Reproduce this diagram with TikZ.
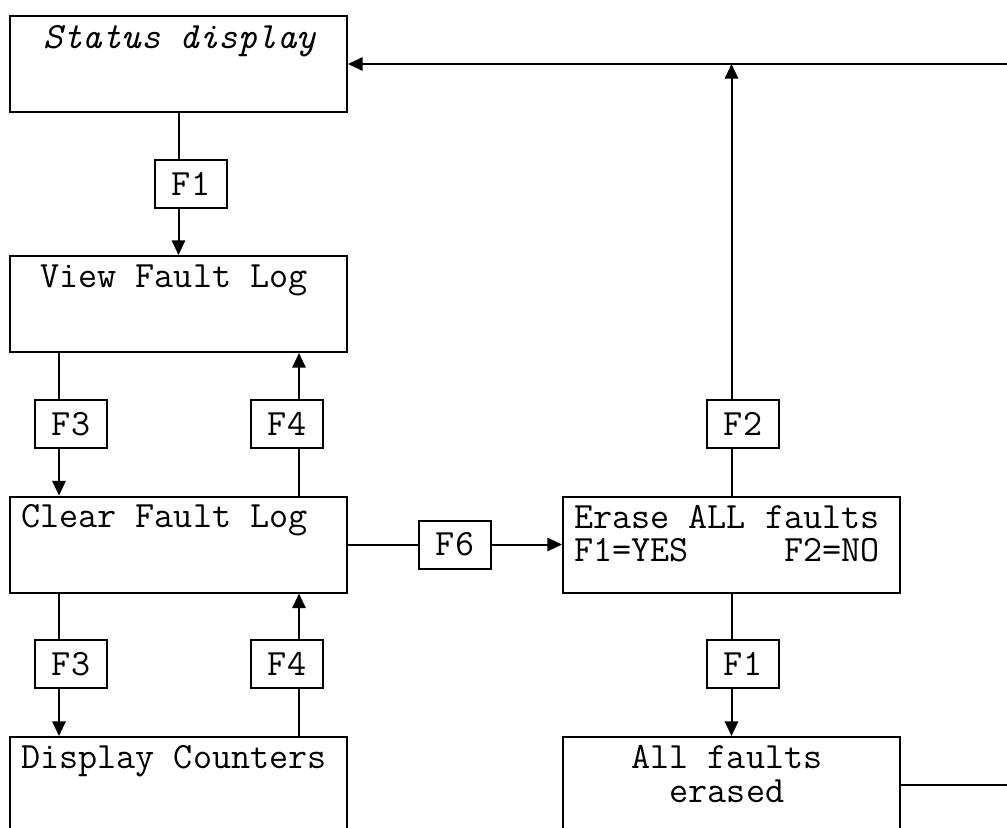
\documentclass[tikz,border=0pt]{standalone}
\usepackage{fontspec}
\usetikzlibrary{arrows.meta}
\newcommand\lcdpad[1]{\hphantom{#1}}
\tikzstyle{screen}  = [draw, line width=1.5pt, minimum width=252.75pt, minimum height=72pt, inner sep=0pt]
\tikzstyle{lcdline} = [anchor=base west, inner sep=0pt, align=left, font=\ttfamily\fontsize{27.8pt}{25pt}\selectfont]
\tikzstyle{key}     = [draw, line width=1.5pt, minimum width=54pt, minimum height=36pt, inner sep=0pt, font=\ttfamily\fontsize{27.8pt}{30pt}\selectfont]
\tikzstyle{link}    = [line width=1.5pt]
\tikzstyle{arrow}   = [line width=1.5pt, -{Triangle[length=11pt,width=10pt]}]

\begin{document}
\begin{tikzpicture}[x=0.75pt,y=-0.75pt]
	\useasboundingbox (0,0) rectangle (1007,828);
	\clip (0,0) rectangle (1007,828);
	% screens
	\node[screen] (status)   at (178.5,64) {};
	\node[screen] (viewlog)  at (178.5,304) {};
	\node[screen] (clearlog) at (178.5,544.5) {};
	\node[screen] (counters) at (178.5,785) {};
	\node[screen] (erase)    at (731.5,544.5) {};
	\node[screen] (erased)   at (731.5,785) {};
	% screen texts (base = last line)
	\node[lcdline] (status-txt)   at ([shift={(15,33)}]status.north west) {\itshape\lcdpad{0}Status display};
	\node[lcdline] (viewlog-txt)  at ([shift={(12,32)}]viewlog.north west) {\lcdpad{0}View Fault Log};
	\node[lcdline] (clearlog-txt) at ([shift={(12,32)}]clearlog.north west) {Clear Fault Log};
	\node[lcdline] (counters-txt) at ([shift={(12,32)}]counters.north west) {Display Counters};
	\node[lcdline] (erase-txt)    at ([shift={(12,66)}]erase.north west) {Erase ALL faults\\F1=YES\lcdpad{00000}F2=NO};
	\node[lcdline] (erased-txt)   at ([shift={(12,66)}]erased.north west) {\lcdpad{000}All faults\\\lcdpad{00000}erased};
	% keys
	\node[key] (key-f1)  at (191,184) {F1};
	\node[key] (key-f3a) at (71,424) {F3};
	\node[key] (key-f4a) at (287,424) {F4};
	\node[key] (key-f3b) at (71,664) {F3};
	\node[key] (key-f4b) at (287,664) {F4};
	\node[key] (key-f6)  at (455,544.5) {F6};
	\node[key] (key-f2)  at (743,424) {F2};
	\node[key] (key-f1b) at (743,664) {F1};
	\coordinate (down) at (59,0);
	\coordinate (up) at (299,0);
	\coordinate (loop) at (1020,785);
	% connectors
	\draw[link] (status.south) -- (status.south |- key-f1.north);
	\draw[arrow] (status.south |- key-f1.south) -- (viewlog.north);
	\draw[link] (viewlog.south -| down) -- (key-f3a.north -| down);
	\draw[arrow] (key-f3a.south -| down) -- (clearlog.north -| down);
	\draw[link] (clearlog.north -| up) -- (key-f4a.south -| up);
	\draw[arrow] (key-f4a.north -| up) -- (viewlog.south -| up);
	\draw[link] (clearlog.south -| down) -- (key-f3b.north -| down);
	\draw[arrow] (key-f3b.south -| down) -- (counters.north -| down);
	\draw[link] (counters.north -| up) -- (key-f4b.south -| up);
	\draw[arrow] (key-f4b.north -| up) -- (clearlog.south -| up);
	\draw[link] (clearlog.east) -- (key-f6.west);
	\draw[arrow] (key-f6.east) -- (erase.west);
	\draw[link] (erase.north) -- (erase.north |- key-f2.south);
	\draw[arrow] (erase.north |- key-f2.north) -- (erase.north |- status.east);
	\draw[link] (erase.south) -- (erase.south |- key-f1b.north);
	\draw[arrow] (erase.south |- key-f1b.south) -- (erased.north);
	\draw[arrow] (erased.east) -- (loop) |- (status.east);
\end{tikzpicture}
\end{document}
